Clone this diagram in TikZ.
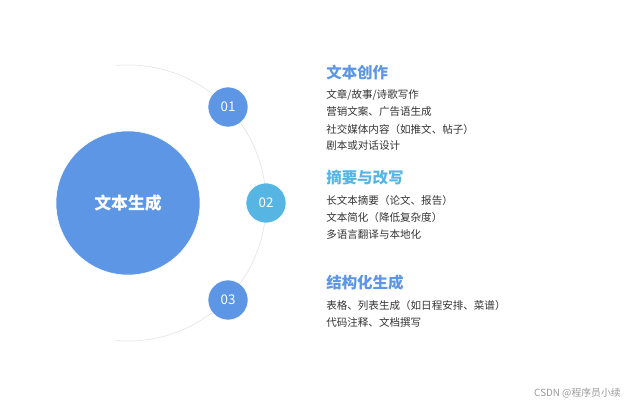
\documentclass[tikz,border=0pt]{standalone}
\usepackage{fontspec}
\setmainfont{Noto Sans CJK SC}
\usetikzlibrary{positioning, calc}
\definecolor{mainblue}{HTML}{5C96E5}
\definecolor{skyblue}{HTML}{57B5E4}
\definecolor{bodygray}{HTML}{333333}
\tikzset{
  hub/.style={
    circle, fill=mainblue, draw=white, thin,
    minimum size=3.6cm, inner sep=0pt,
    text=white, font=\fontsize{12}{14}\selectfont\bfseries
  },
  badge/.style={
    circle, fill=#1, draw=white, thin,
    minimum size=1.0cm, inner sep=0pt,
    text=white, font=\fontsize{9.5}{11}\selectfont
  },
  headline/.style={
    anchor=west, inner sep=0pt, text=#1,
    font=\fontsize{11}{13}\selectfont\bfseries
  },
  item/.style={
    anchor=west, inner sep=0pt, text=bodygray,
    font=\fontsize{7.5}{9}\selectfont
  },
  orbit/.style={draw=black!10, line width=0.5pt}
}

\begin{document}
\begin{tikzpicture}[x=0.025cm, y=-0.025cm]
\useasboundingbox (0,0) rectangle (635,405);

\coordinate (ctr) at (128,203);
\draw[orbit] ($(ctr)+(95:3.45cm)$) arc[start angle=95, end angle=-95, radius=3.45cm];

\node[hub] (gen) at (ctr) {文本生成};

\node[badge=mainblue] (b1) at (228,107) {01};
\node[badge=skyblue] (b2) at (266,203) {02};
\node[badge=mainblue] (b3) at (228,300) {03};

% group 01
\node[headline=mainblue] (t1) at (326,73) {文本创作};
\node[item] (t1a) at (326,95) {文章/故事/诗歌写作};
\node[item] (t1b) at (326,112) {营销文案、广告语生成};
\node[item] (t1c) at (326,129) {社交媒体内容（如推文、帖子）};
\node[item] (t1d) at (326,146) {剧本或对话设计};

% group 02
\node[headline=skyblue] (t2) at (326,178) {摘要与改写};
\node[item] (t2a) at (326,200) {长文本摘要（论文、报告）};
\node[item] (t2b) at (326,217) {文本简化（降低复杂度）};
\node[item] (t2c) at (326,234) {多语言翻译与本地化};

% group 03
\node[headline=mainblue] (t3) at (326,283) {结构化生成};
\node[item] (t3a) at (326,305) {表格、列表生成（如日程安排、菜谱）};
\node[item] (t3b) at (326,322) {代码注释、文档撰写};

\node[anchor=east, inner sep=0pt, text=black!40, font=\fontsize{7}{8}\selectfont] (mark) at (621,393) {CSDN @程序员小续};

\end{tikzpicture}
\end{document}
